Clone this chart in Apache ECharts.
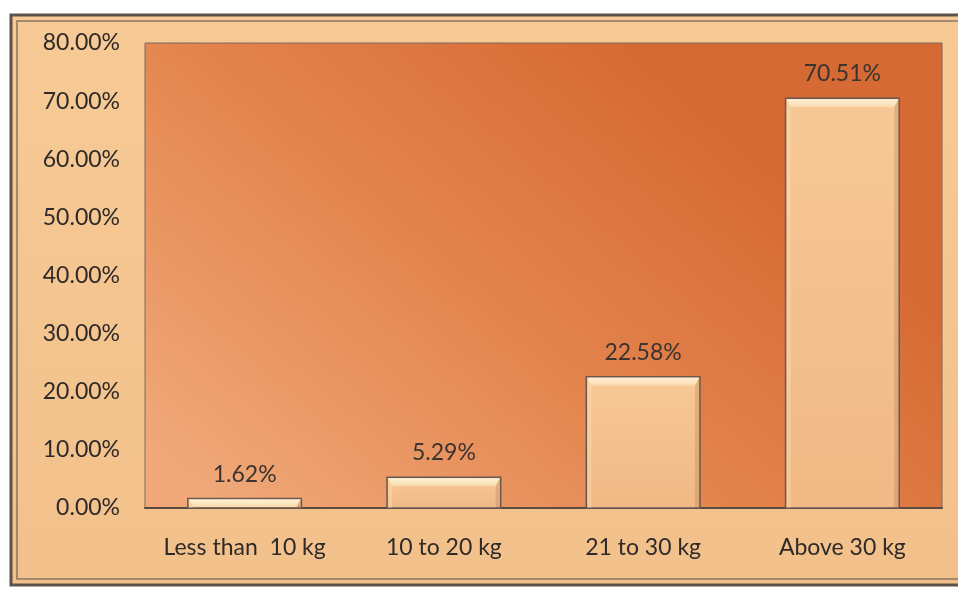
<!DOCTYPE html>
<html>
<head>
<meta charset="utf-8">
<script src="https://cdn.jsdelivr.net/npm/echarts@6/dist/echarts.min.js"></script>
<style>
  html, body { margin: 0; padding: 0; background: #ffffff; }
  #chart { width: 958px; height: 590px; }
</style>
</head>
<body>
<div id="chart"></div>
<script>
// Quantity of ration bought per purchase (share of respondents)
const categories = ['Less than  10 kg', '10 to 20 kg', '21 to 30 kg', 'Above 30 kg'];
const shares = [1.62, 5.29, 22.58, 70.51];
const yTicks = [0, 10, 20, 30, 40, 50, 60, 70, 80];

const chart = echarts.init(document.getElementById('chart'));
const FONT = 'Lato, "Open Sans", sans-serif';

// Bevelled column: body, light top bevel, side shading, value label above
function renderBevelBar(params, api) {
  const idx = api.value(0);
  const val = api.value(1);
  const top = api.coord([idx, val]);
  const base = api.coord([idx, 0]);
  const w = api.size([1, 0])[0] * 0.57;
  const left = top[0] - w / 2;
  const right = left + w;
  const h = base[1] - top[1];
  const b = Math.min(9, h * 0.9);
  const s = Math.min(5, w / 2);
  return {
    type: 'group',
    children: [
      {
        type: 'rect',
        shape: { x: left, y: top[1], width: w, height: h },
        style: {
          fill: { type: 'linear', x: 0, y: 0, x2: 0, y2: 1, colorStops: [
            { offset: 0, color: '#f7c895' }, { offset: 1, color: '#f0b986' }
          ] },
          stroke: '#6a5850', lineWidth: 1.5
        }
      },
      {
        type: 'polygon',
        shape: { points: [[left + 1, top[1] + 1], [right - 1, top[1] + 1], [right - s, top[1] + b], [left + s, top[1] + b]] },
        style: {
          fill: { type: 'linear', x: 0, y: 0, x2: 0, y2: 1, colorStops: [
            { offset: 0, color: '#fff2d8' }, { offset: 1, color: '#f9d9ab' }
          ] }
        }
      },
      {
        type: 'polygon',
        shape: { points: [[right - 1, top[1] + 1], [right - 1, base[1]], [right - s, base[1]], [right - s, top[1] + b]] },
        style: { fill: 'rgba(150,90,50,0.2)' }
      },
      {
        type: 'polygon',
        shape: { points: [[left + 1, top[1] + 1], [left + 1, base[1]], [left + s, base[1]], [left + s, top[1] + b]] },
        style: { fill: 'rgba(255,235,200,0.3)' }
      },
      {
        type: 'text',
        style: {
          x: top[0], y: top[1] - 13,
          text: val.toFixed(2) + '%',
          textAlign: 'center', textVerticalAlign: 'bottom',
          fill: '#3a3330', font: '23px ' + FONT
        }
      }
    ]
  };
}

chart.setOption({
  animation: false,
  backgroundColor: '#ffffff',
  graphic: [
    {
      type: 'rect', z: -10,
      shape: { x: 11, y: 15, width: 960, height: 570 },
      style: {
        fill: { type: 'linear', x: 0, y: 0, x2: 0, y2: 1, colorStops: [
          { offset: 0, color: '#f7ca95' }, { offset: 1, color: '#f2c08b' }
        ] },
        stroke: '#5f5248', lineWidth: 3
      }
    },
    {
      type: 'rect', z: -9,
      shape: { x: 17, y: 21, width: 960, height: 558 },
      style: { fill: 'none', stroke: '#8a7464', lineWidth: 1.5 }
    }
  ],
  grid: {
    left: 145, top: 43, right: 16, bottom: 82,
    show: true,
    borderColor: '#7a6a5e', borderWidth: 1,
    backgroundColor: { type: 'linear', x: 0.1, y: 1, x2: 0.6, y2: 0, colorStops: [
      { offset: 0, color: '#f0a878' },
      { offset: 0.55, color: '#e3834c' },
      { offset: 1, color: '#d66a34' }
    ] }
  },
  xAxis: {
    type: 'category',
    data: categories,
    axisLine: { show: true, lineStyle: { color: '#5a4a40', width: 2 } },
    axisTick: { show: false },
    axisLabel: {
      color: '#2e2a28', fontFamily: FONT, fontSize: 23, margin: 28,
      interval: 0, hideOverlap: false
    }
  },
  yAxis: {
    type: 'value',
    min: yTicks[0], max: yTicks[yTicks.length - 1], interval: 10,
    axisLine: { show: false },
    axisTick: { show: false },
    splitLine: { show: false },
    axisLabel: {
      color: '#2e2a28', fontFamily: FONT, fontSize: 23, margin: 25,
      formatter: v => v.toFixed(2) + '%'
    }
  },
  series: [{
    type: 'custom',
    renderItem: renderBevelBar,
    data: shares.map((v, i) => [i, v]),
    encode: { x: 0, y: 1 },
    clip: false
  }]
});
</script>
</body>
</html>
